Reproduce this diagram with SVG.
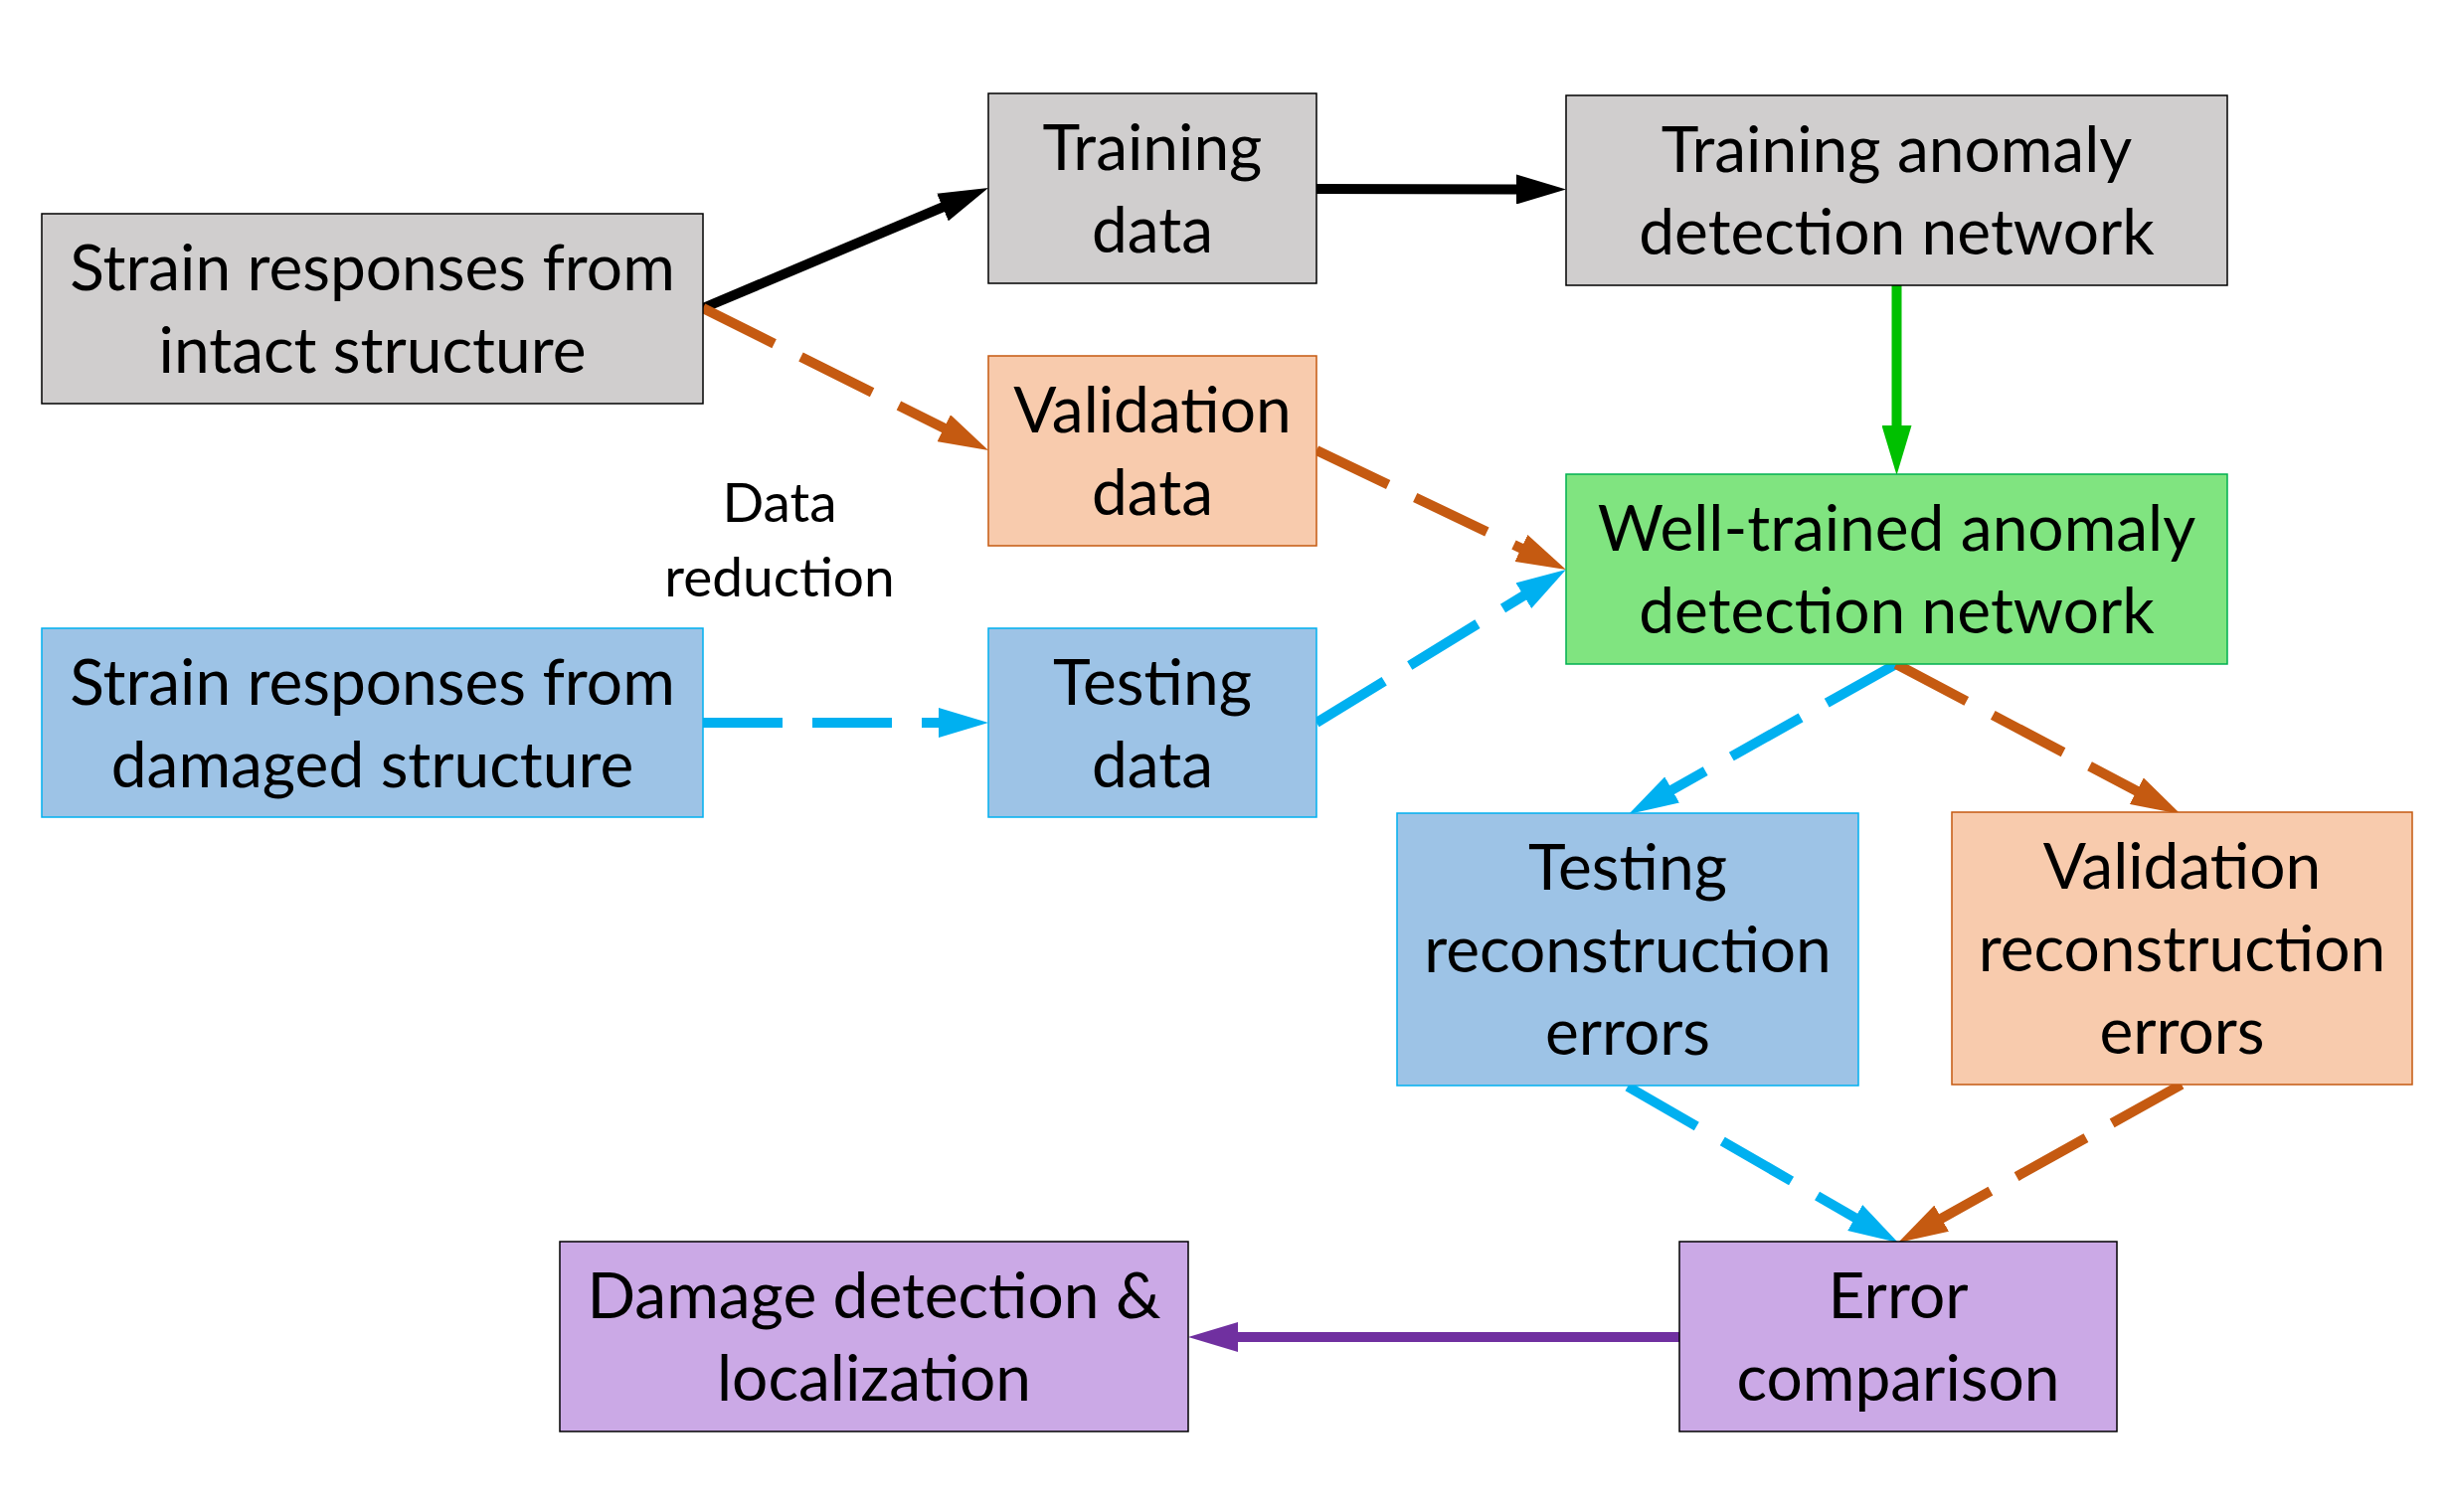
<svg xmlns="http://www.w3.org/2000/svg" width="2465" height="1521" viewBox="0 0 2465 1521">
<style>
.t{font-family:Lato,"Liberation Sans",sans-serif;font-size:64px;fill:#000;text-anchor:middle}
.lbl{font-family:Lato,"Liberation Sans",sans-serif;font-size:55px;fill:#000;text-anchor:middle}
.gray{fill:#D0CECE;stroke:#000;stroke-width:1.5}
.org{fill:#F8CBAD;stroke:#C55A11;stroke-width:1.5}
.blu{fill:#9DC3E6;stroke:#00B0F0;stroke-width:1.5}
.grn{fill:#80E480;stroke:#00B050;stroke-width:1.5}
.pur{fill:#CBA9E6;stroke:#000;stroke-width:1.5}
.c{fill:none;stroke-width:10}
.dash{stroke-dasharray:80 30}
</style>
<defs>
<marker id="mk" markerUnits="userSpaceOnUse" markerWidth="50" markerHeight="30" refX="20" refY="15" orient="auto"><path d="M0,0 L50,15 L0,30 z" fill="#000"/></marker>
<marker id="mg" markerUnits="userSpaceOnUse" markerWidth="50" markerHeight="30" refX="20" refY="15" orient="auto"><path d="M0,0 L50,15 L0,30 z" fill="#00C000"/></marker>
<marker id="mo" markerUnits="userSpaceOnUse" markerWidth="50" markerHeight="30" refX="20" refY="15" orient="auto"><path d="M0,0 L50,15 L0,30 z" fill="#C55A11"/></marker>
<marker id="mb" markerUnits="userSpaceOnUse" markerWidth="50" markerHeight="30" refX="20" refY="15" orient="auto"><path d="M0,0 L50,15 L0,30 z" fill="#00B0F0"/></marker>
<marker id="mp" markerUnits="userSpaceOnUse" markerWidth="50" markerHeight="30" refX="20" refY="15" orient="auto"><path d="M0,0 L50,15 L0,30 z" fill="#7030A0"/></marker>
</defs>
<rect width="2465" height="1521" fill="#fff"/>
<g id="connectors">
<line class="c" x1="707" y1="310" x2="966.4" y2="200.7" stroke="#000" marker-end="url(#mk)"/>
<line class="c" x1="1324" y1="190" x2="1545" y2="190.5" stroke="#000" marker-end="url(#mk)"/>
<line class="c" x1="1907.5" y1="287" x2="1907.5" y2="448" stroke="#00C000" marker-end="url(#mg)"/>
<line class="c dash" x1="707" y1="310" x2="967.2" y2="439.6" stroke="#C55A11" marker-end="url(#mo)"/>
<line class="c dash" x1="1324" y1="453" x2="1547.9" y2="560.1" stroke="#C55A11" marker-end="url(#mo)"/>
<line class="c dash" x1="707" y1="727" x2="964" y2="727" stroke="#00B0F0" marker-end="url(#mb)"/>
<line class="c dash" x1="1324" y1="727" x2="1549.4" y2="588.7" stroke="#00B0F0" marker-end="url(#mb)"/>
<line class="c dash" x1="1907" y1="668" x2="1664.2" y2="804.3" stroke="#00B0F0" marker-end="url(#mb)"/>
<line class="c dash" x1="1907" y1="668" x2="2166.5" y2="805" stroke="#C55A11" marker-end="url(#mo)"/>
<line class="c dash" x1="1637" y1="1093" x2="1883" y2="1235" stroke="#00B0F0" marker-end="url(#mb)"/>
<line class="c dash" x1="2194" y1="1091" x2="1935.2" y2="1235.4" stroke="#C55A11" marker-end="url(#mo)"/>
<line class="c" x1="1689" y1="1345" x2="1225" y2="1345" stroke="#7030A0" marker-end="url(#mp)"/>
</g>
<g id="intact"><rect class="gray" x="42" y="215" width="665" height="191"/><text class="t" x="374.5" y="292">Strain responses from</text><text class="t" x="374.5" y="375">intact structure</text></g>
<g id="training-data"><rect class="gray" x="994" y="94" width="330" height="191"/><text class="t" x="1159" y="171">Training</text><text class="t" x="1159" y="254">data</text></g>
<g id="training-network"><rect class="gray" x="1575" y="96" width="665" height="191"/><text class="t" x="1907.5" y="173">Training anomaly</text><text class="t" x="1907.5" y="256">detection network</text></g>
<g id="validation-data"><rect class="org" x="994" y="358" width="330" height="191"/><text class="t" x="1159" y="435">Validation</text><text class="t" x="1159" y="518">data</text></g>
<g id="well-trained"><rect class="grn" x="1575" y="477" width="665" height="191"/><text class="t" x="1907.5" y="554">Well-trained anomaly</text><text class="t" x="1907.5" y="637">detection network</text></g>
<g id="damaged"><rect class="blu" x="42" y="632" width="665" height="190"/><text class="t" x="374.5" y="708.5">Strain responses from</text><text class="t" x="374.5" y="791.5">damaged structure</text></g>
<g id="testing-data"><rect class="blu" x="994" y="632" width="330" height="190"/><text class="t" x="1159" y="708.5">Testing</text><text class="t" x="1159" y="791.5">data</text></g>
<g id="data-reduction"><text class="lbl" x="784" y="525">Data</text><text class="lbl" x="784" y="600">reduction</text></g>
<g id="testing-errors"><rect class="blu" x="1405" y="818" width="464" height="274"/><text class="t" x="1637" y="895">Testing</text><text class="t" x="1637" y="978">reconstruction</text><text class="t" x="1637" y="1061">errors</text></g>
<g id="validation-errors"><rect class="org" x="1963" y="817" width="463" height="274"/><text class="t" x="2194.5" y="894">Validation</text><text class="t" x="2194.5" y="977">reconstruction</text><text class="t" x="2194.5" y="1060">errors</text></g>
<g id="damage-detection"><rect class="pur" x="563" y="1249" width="632" height="191"/><text class="t" x="879" y="1326">Damage detection &amp;</text><text class="t" x="879" y="1409">localization</text></g>
<g id="error-comparison"><rect class="pur" x="1689" y="1249" width="440" height="191"/><text class="t" x="1909" y="1326">Error</text><text class="t" x="1909" y="1409">comparison</text></g>
</svg>
